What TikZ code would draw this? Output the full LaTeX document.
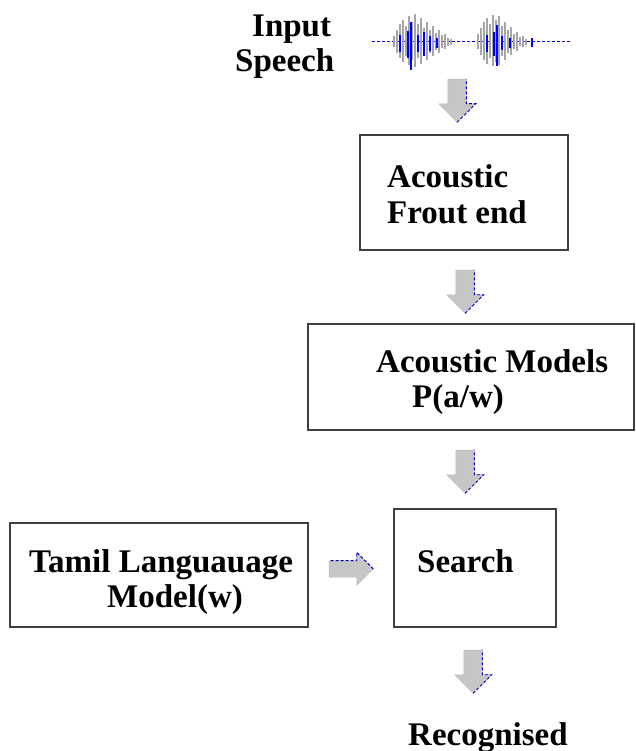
\documentclass[tikz,border=0pt]{standalone}
\usepackage{fontspec}
\setmainfont{Liberation Serif}
\usepackage{tikz}
\usetikzlibrary{shapes,arrows,positioning,calc}

\begin{document}
\begin{tikzpicture}[x=1pt, y=-1pt]
\tikzset{
block/.style    = {draw=black!75, line width=1.3pt, shape=rectangle, fill=white, inner sep=0pt},
txt/.style      = {anchor=base west, inner sep=0pt, font=\fontsize{33}{35}\selectfont\bfseries},
flow/.style     = {single arrow, draw=gray!55, fill=gray!45, single arrow head indent=0pt},
downflow/.style = {flow, shape border rotate=270, inner sep=9pt, single arrow head extend=9pt, minimum height=43pt},
sideflow/.style = {flow, inner sep=8pt, single arrow head extend=8pt, minimum height=44pt},
edgeblue/.style = {draw=blue!75!black, densely dashed, line width=0.9pt},
}
    \useasboundingbox (0,0) rectangle (636,751);

    % Speech signal
    \draw [blue!80!black, densely dashed, line width=1pt] (372,42) -- (570,42);
    \foreach \x/\a in {394/6, 397/12, 400/18, 403/22, 406/16, 409/26, 412/20, 415/28, 418/18, 421/24, 424/14, 427/20, 430/12, 433/16, 436/9, 439/12, 442/7, 445/8, 448/4, 451/3,
                       478/8, 481/14, 484/20, 487/24, 490/18, 493/27, 496/22, 499/26, 502/16, 505/20, 508/12, 511/15, 514/8, 517/10, 520/5, 523/6, 526/3}
        \draw [gray!70, line width=1.6pt] (\x,42-\a) -- (\x,42+0.9*\a);
    \foreach \x/\a in {400/10, 408/16, 411/28, 418/10, 424/14, 430/9, 437/6, 487/10, 494/14, 497/24, 502/8, 510/6, 532/5}
        \draw [blue, line width=1.1pt] (\x,42-0.7*\a) -- (\x,42+\a);

    % Main nodes
    \node [block, minimum width=208pt, minimum height=115pt] (frontend) at (464,192.5) {};
    \node [block, minimum width=326pt, minimum height=106pt] (models)   at (471,377)   {};
    \node [block, minimum width=162pt, minimum height=118pt] (search)   at (475,568)   {};
    \node [block, minimum width=298pt, minimum height=104pt] (langmod)  at (159,575)   {};

    % Labels
    \node [txt] (input)     at (252,37)  {Input};
    \node [txt] (speech)    at (235,72)  {Speech};
    \node [txt] (feA)       at (387,188) {Acoustic};
    \node [txt] (feB)       at (387,223) {Frout end};
    \node [txt] (amA)       at (376,372) {Acoustic Models};
    \node [txt] (amB)       at (412,407) {P(a/w)};
    \node [txt] (srch)      at (417,572) {Search};
    \node [txt] (lmA)       at (29,572)  {Tamil Languauage};
    \node [txt] (lmB)       at (107,607) {Model(w)};
    \node [txt] (recog)     at (408,745) {Recognised};

    % Main edges
    \node [downflow] (a1) at (457,96)  {};
    \node [downflow] (a2) at (465,287) {};
    \node [downflow] (a3) at (465,467) {};
    \node [sideflow] (a4) at (347,569) {};
    \node [downflow] (a5) at (473,667) {};
    \foreach \a in {a1,a2,a3,a4,a5}
        \draw [edgeblue] (\a.tip) -- (\a.before tip) -- (\a.before head) -- (\a.after tail);

\end{tikzpicture}
\end{document}
